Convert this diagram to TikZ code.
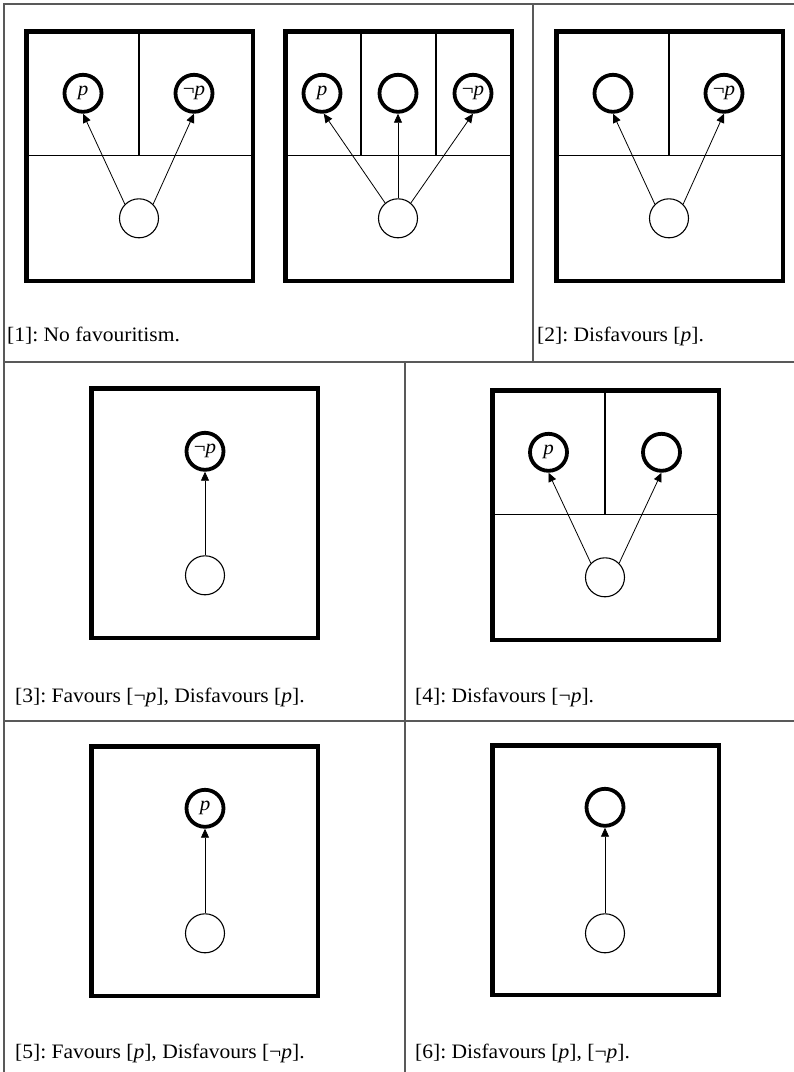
\documentclass[tikz,border=0pt]{standalone}
\usepackage{fontspec}
\setmainfont{Liberation Serif}[FakeStretch=1.05]
\usetikzlibrary{arrows.meta}
\begin{document}
\frenchspacing
\begin{tikzpicture}[x=1pt,y=-1pt,
  grid/.style={draw=black!65, line width=1.1pt},
  frame/.style={draw=black, line width=4.6pt},
  divider/.style={draw=black, line width=1.3pt},
  world/.style={circle, draw=black, line width=3.8pt, minimum size=37pt, inner sep=0pt, font=\fontsize{20}{20}\selectfont},
  origin/.style={circle, draw=black, line width=1.1pt, minimum size=39pt, inner sep=0pt},
  link/.style={line width=0.8pt, -{Triangle[length=9pt,width=8pt]}},
  caption/.style={anchor=base west, inner sep=0pt, font=\fontsize{20.5}{20.5}\selectfont}
]
\useasboundingbox (0,0) rectangle (794,1072);
\fill[white] (0,0) rectangle (794,1072);
% table grid
\draw[grid] (4,1072) -- (4,4) -- (794,4);
\draw[grid] (4,362) -- (794,362);
\draw[grid] (4,721) -- (794,721);
\draw[grid] (533,4) -- (533,362);
\draw[grid] (405,362) -- (405,1072);

% panel 1a
\begin{scope}[shift={(26.3,31.3)}]
\draw[divider] (0,124) -- (226.5,124);
\draw[divider] (112.7,0) -- (112.7,124);
\draw[frame] (0,0) rectangle (226.5,249.5);
\node[world] (a1p) at (56.7,62) {\textit{p}};
\node[world] (a1n) at (167.7,62) {¬\textit{p}};
\node[origin] (a1o) at (112.7,187) {};
\draw[link] (a1o.135) -- (a1p.south);
\draw[link] (a1o.45) -- (a1n.south);
\end{scope}

% panel 1b
\begin{scope}[shift={(285.3,31.3)}]
\draw[divider] (0,124) -- (226.5,124);
\draw[divider] (75.7,0) -- (75.7,124);
\draw[divider] (150.7,0) -- (150.7,124);
\draw[frame] (0,0) rectangle (226.5,249.5);
\node[world] (a2p) at (36.7,62) {\textit{p}};
\node[world] (a2m) at (112.7,62) {};
\node[world] (a2n) at (187.7,62) {¬\textit{p}};
\node[origin] (a2o) at (112.7,187) {};
\draw[link] (a2o.130) -- (a2p.-85);
\draw[link] (a2o.north) -- (a2m.south);
\draw[link] (a2o.50) -- (a2n.south);
\end{scope}

% panel 2
\begin{scope}[shift={(556.3,31.3)}]
\draw[divider] (0,124) -- (226.5,124);
\draw[divider] (112.7,0) -- (112.7,124);
\draw[frame] (0,0) rectangle (226.5,249.5);
\node[world] (b1) at (56.7,62) {};
\node[world] (b2) at (167.7,62) {¬\textit{p}};
\node[origin] (bo) at (112.7,187) {};
\draw[link] (bo.135) -- (b1.south);
\draw[link] (bo.45) -- (b2.south);
\end{scope}

% panel 3
\begin{scope}[shift={(91.3,388.3)}]
\draw[frame] (0,0) rectangle (226.5,249.5);
\node[world] (c1) at (113.7,63) {¬\textit{p}};
\node[origin] (co) at (113.7,187) {};
\draw[link] (co.north) -- (c1.south);
\end{scope}

% panel 4
\begin{scope}[shift={(492.3,390.3)}]
\draw[divider] (0,124) -- (226.5,124);
\draw[divider] (112.7,0) -- (112.7,124);
\draw[frame] (0,0) rectangle (226.5,249.5);
\node[world] (d1) at (56.2,62) {\textit{p}};
\node[world] (d2) at (169.2,62) {};
\node[origin] (do) at (112.7,187) {};
\draw[link] (do.135) -- (d1.south);
\draw[link] (do.45) -- (d2.south);
\end{scope}

% panel 5
\begin{scope}[shift={(91.3,746.3)}]
\draw[frame] (0,0) rectangle (226.5,249.5);
\node[world] (e1) at (113.7,62) {\textit{p}};
\node[origin] (eo) at (113.7,187) {};
\draw[link] (eo.north) -- (e1.south);
\end{scope}

% panel 6
\begin{scope}[shift={(492.3,745.3)}]
\draw[frame] (0,0) rectangle (226.5,249.5);
\node[world] (f1) at (112.7,62) {};
\node[origin] (fo) at (112.7,188) {};
\draw[link] (fo.north) -- (f1.south);
\end{scope}

% captions
\node[caption] (t1) at (7,341) {[1]: No favouritism.};
\node[caption] (t2) at (537,341) {[2]: Disfavours [\textit{p}].};
\node[caption] (t3) at (15,702) {[3]: Favours [¬\textit{p}], Disfavours [\textit{p}].};
\node[caption] (t4) at (415,702) {[4]: Disfavours [¬\textit{p}].};
\node[caption] (t5) at (15,1058) {[5]: Favours [\textit{p}], Disfavours [¬\textit{p}].};
\node[caption] (t6) at (415,1058) {[6]: Disfavours [\textit{p}], [¬\textit{p}].};
\end{tikzpicture}
\end{document}
